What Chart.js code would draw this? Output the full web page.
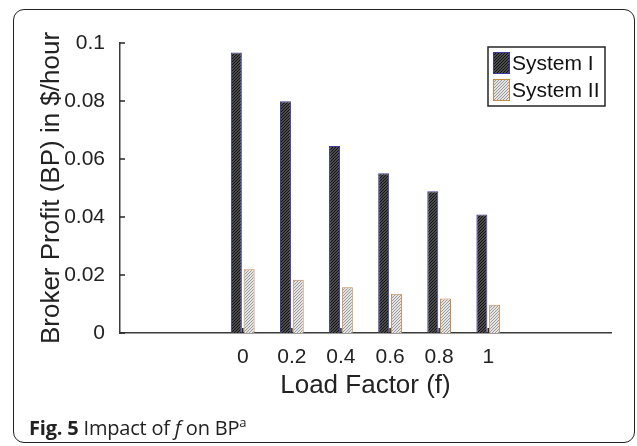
<!DOCTYPE html>
<html>
<head>
<meta charset="utf-8">
<script src="https://cdn.jsdelivr.net/npm/chart.js@4.4.1/dist/chart.umd.min.js"></script>
<style>
  html, body { margin: 0; padding: 0; background: #fff; }
  #wrap { position: relative; width: 637px; height: 446px; overflow: hidden; }
  #frame {
    position: absolute; left: 13px; top: 9px; width: 620px; height: 432px;
    border: 1.5px solid #222; border-radius: 11px;
  }
  #chart { position: absolute; left: 0; top: 0; }
  #caption {
    position: absolute; left: 29px; top: 413px;
    font-family: "Open Sans", "Noto Sans", sans-serif; font-size: 20px; color: #222;
    white-space: nowrap; letter-spacing: -0.2px;
  }
  #caption b { font-weight: 700; }
  #caption sup { font-size: 13px; vertical-align: 8px; }
</style>
</head>
<body>
<div id="wrap">
  <div id="frame"></div>
  <canvas id="chart" width="637" height="446"></canvas>
  <div id="caption"><b>Fig. 5</b> Impact of <i>f</i> on BP<sup>a</sup></div>
</div>
<script>
// load factor values and broker profit per system
const loadFactors = [0, 0.2, 0.4, 0.6, 0.8, 1];
const systemOne = [0.0967, 0.0799, 0.0645, 0.0551, 0.0489, 0.0409];
const systemTwo = [0.0220, 0.0184, 0.0158, 0.0135, 0.0119, 0.0097];
const seriesNames = ["System I", "System II"];
const yTicks = [0, 0.02, 0.04, 0.06, 0.08, 0.1];
const yTickLabels = ["0", "0.02", "0.04", "0.06", "0.08", "0.1"];
const xTickLabels = ["0", "0.2", "0.4", "0.6", "0.8", "1"];

const FONT = "'Liberation Sans', Arial, sans-serif";

// fine diagonal hatch fills
function hatch(bg, fg, size) {
  const c = document.createElement("canvas");
  c.width = size; c.height = size;
  const g = c.getContext("2d");
  g.fillStyle = bg;
  g.fillRect(0, 0, size, size);
  g.strokeStyle = fg;
  g.lineWidth = 1;
  g.beginPath();
  g.moveTo(0, size); g.lineTo(size, 0);
  g.moveTo(-1, 1); g.lineTo(1, -1);
  g.moveTo(size - 1, size + 1); g.lineTo(size + 1, size - 1);
  g.stroke();
  return g.createPattern(c, "repeat");
}

const ctx = document.getElementById("chart").getContext("2d");
const darkFill = hatch("#4a4a4a", "#141414", 3);
const lightFill = hatch("#e4e4e4", "#9a9a9a", 3);

// inward tick marks on both axes, drawn over the bars
const innerTicks = {
  id: "innerTicks",
  afterDatasetsDraw(chart) {
    const { ctx, chartArea, scales } = chart;
    ctx.save();
    ctx.strokeStyle = "#262626";
    ctx.lineWidth = 1.5;
    ctx.beginPath();
    yTicks.forEach((v) => {
      const y = scales.y.getPixelForValue(v);
      ctx.moveTo(chartArea.left, y);
      ctx.lineTo(chartArea.left + 5, y);
    });
    loadFactors.forEach((v) => {
      const x = scales.x.getPixelForValue(v);
      ctx.moveTo(x, chartArea.bottom);
      ctx.lineTo(x, chartArea.bottom - 5);
    });
    ctx.stroke();
    ctx.restore();
  },
};

// boxed legend in the upper right corner of the plot
const boxLegend = {
  id: "boxLegend",
  afterDraw(chart) {
    const { ctx, chartArea } = chart;
    const w = 117, h = 59;
    const x0 = chartArea.right - w - 6;
    const y0 = chartArea.top + 4;
    ctx.save();
    ctx.fillStyle = "#fff";
    ctx.fillRect(x0, y0, w, h);
    ctx.strokeStyle = "#262626";
    ctx.lineWidth = 1.5;
    ctx.strokeRect(x0, y0, w, h);
    ctx.font = "21px " + FONT;
    ctx.textBaseline = "middle";
    chart.data.datasets.forEach((ds, i) => {
      const sy = y0 + 5 + i * 27;
      ctx.fillStyle = ds.backgroundColor;
      ctx.fillRect(x0 + 5, sy, 17, 22);
      ctx.strokeStyle = ds.borderColor;
      ctx.lineWidth = 1;
      ctx.strokeRect(x0 + 5.5, sy + 0.5, 16, 21);
      ctx.fillStyle = "#111";
      ctx.fillText(ds.label, x0 + 24, sy + 12);
    });
    ctx.restore();
  },
};

new Chart(ctx, {
  type: "bar",
  data: {
    datasets: [
      {
        label: seriesNames[0],
        data: loadFactors.map((f, i) => ({ x: f, y: systemOne[i] })),
        backgroundColor: darkFill,
        borderColor: "#3a3aa0",
        borderWidth: 1,
      },
      {
        label: seriesNames[1],
        data: loadFactors.map((f, i) => ({ x: f, y: systemTwo[i] })),
        backgroundColor: lightFill,
        borderColor: "#c8874c",
        borderWidth: 1,
      },
    ],
  },
  plugins: [innerTicks, boxLegend],
  options: {
    responsive: false,
    animation: false,
    categoryPercentage: 0.52,
    barPercentage: 0.86,
    layout: { padding: { left: 0, top: 43, right: 26, bottom: 0 } },
    plugins: {
      legend: { display: false },
      tooltip: { enabled: false },
    },
    scales: {
      x: {
        type: "linear",
        min: -0.5,
        max: 1.5,
        offset: false,
        grid: { display: false, offset: false },
        border: { display: true, color: "#3a3a3a", width: 1.5 },
        afterBuildTicks: (scale) => {
          scale.ticks = loadFactors.map((v) => ({ value: v }));
        },
        afterFit: (scale) => { scale.height = 113; },
        ticks: {
          padding: 4,
          color: "#222",
          font: { family: FONT, size: 21 },
          callback: (value) => xTickLabels[loadFactors.indexOf(value)],
        },
        title: {
          display: true,
          text: "Load Factor (f)",
          color: "#222",
          font: { family: FONT, size: 26 },
          padding: { bottom: 45 },
        },
      },
      y: {
        min: 0,
        max: 0.1,
        grid: { display: false },
        border: { display: true, color: "#3a3a3a", width: 1.5 },
        afterBuildTicks: (scale) => {
          scale.ticks = yTicks.map((v) => ({ value: v }));
        },
        afterFit: (scale) => { scale.width = 120; },
        ticks: {
          padding: 7,
          color: "#222",
          font: { family: FONT, size: 21 },
          callback: (value) => yTickLabels[yTicks.indexOf(value)],
        },
        title: {
          display: true,
          text: "Broker Profit (BP) in $/hour",
          color: "#222",
          font: { family: FONT, size: 26 },
          padding: { top: 36 },
        },
      },
    },
  },
});
</script>
</body>
</html>
